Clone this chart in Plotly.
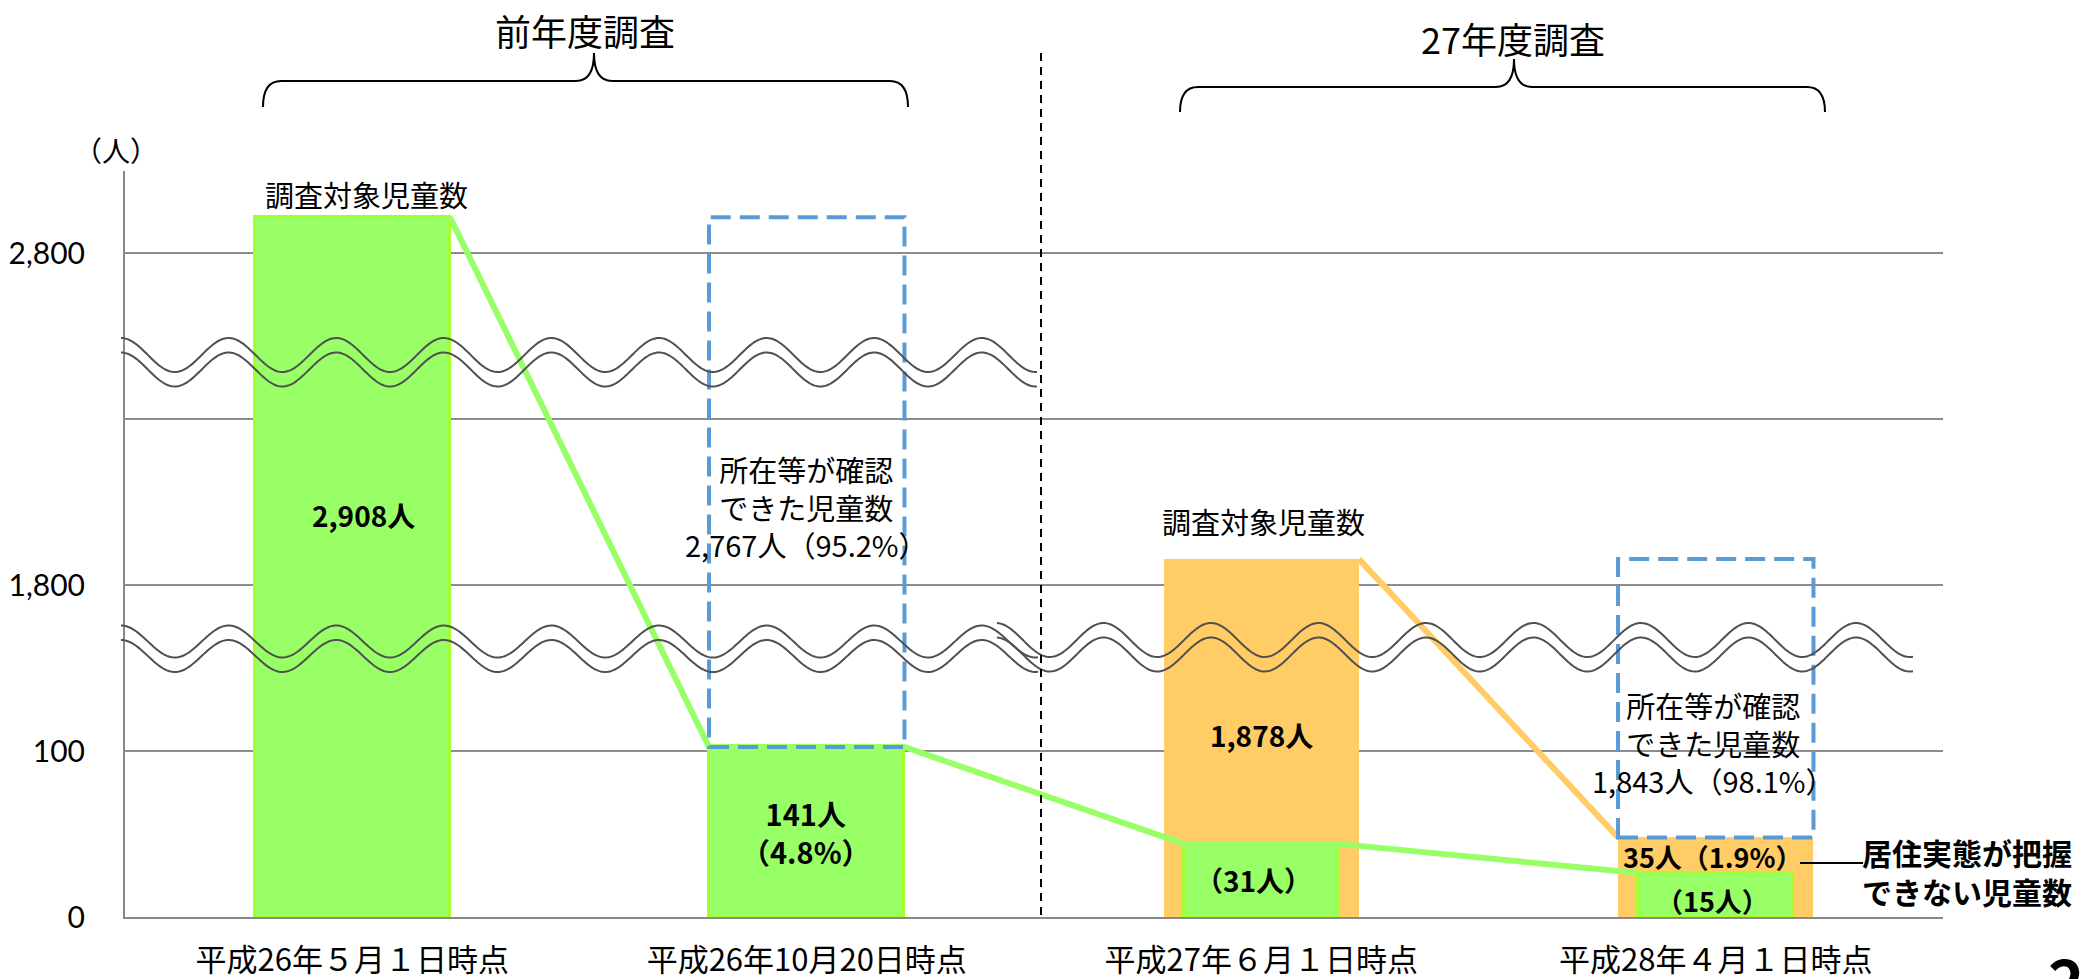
import numpy as np
import plotly.graph_objects as go

# ---------------- data ----------------
categories = ["平成26年５月１日時点", "平成26年10月20日時点", "平成27年６月１日時点", "平成28年４月１日時点"]
survey_titles = ["前年度調査", "27年度調査"]
survey_totals = [2908, 1878]          # 調査対象児童数
confirmed = [2767, 1843]              # 所在等が確認できた児童数
confirmed_pct = [95.2, 98.1]
unconfirmed = [141, 35]               # 居住実態が把握できない児童数
unconfirmed_pct = [4.8, 1.9]
followup_unconfirmed = [31, 15]       # 後続時点で把握できない児童数
y_tick_values = [0, 100, 1800, 2300, 2800]
y_tick_labels = ["0", "100", "1,800", "", "2,800"]

GREEN = "#99FF66"
GREEN_EDGE = "#A4FF2E"
ORANGE = "#FFCC66"
BLUE = "#5B9BD5"
JP = "Noto Sans CJK JP"

# ---------------- geometry helpers ----------------
W, H = 2085, 979
ML, MR, MT, MB = 125, 142, 171, 62
PW, PH = W - ML - MR, H - MT - MB
Y_TOP = 4.494


def T(v):
    """Broken (schematic) axis transform: 0-100 | 100-1800 | 1800-2800..."""
    if v <= 100:
        return (v / 100.0) ** 0.7
    if v <= 1800:
        return 1 + (v - 100) / 1700.0
    return 2 + (v - 1800) / 500.0


def px(x):
    return (x - ML) / PW


def py(y):
    return (H - MB - y) / PH


W_BAR = 0.43
W_NARROW = 0.34

fig = go.Figure()

# orange survey bars (27年度)
fig.add_trace(go.Bar(x=[2, 3], y=[T(survey_totals[1]), T(unconfirmed[1])], width=W_BAR,
                     marker=dict(color=ORANGE, line=dict(color=ORANGE, width=0)),
                     hoverinfo="skip", showlegend=False))
# green bars (前年度)
fig.add_trace(go.Bar(x=[0, 1], y=[T(survey_totals[0]), T(unconfirmed[0])], width=W_BAR,
                     marker=dict(color=GREEN, line=dict(color=GREEN_EDGE, width=3)),
                     hoverinfo="skip", showlegend=False))
# green follow-up bars
fig.add_trace(go.Bar(x=[2, 3], y=[T(v) for v in followup_unconfirmed], width=W_NARROW,
                     marker=dict(color=GREEN, line=dict(color=GREEN_EDGE, width=3)),
                     hoverinfo="skip", showlegend=False))

# connecting lines
fig.add_trace(go.Scatter(
    x=[0 + W_BAR / 2, 1 - W_BAR / 2, 1 + W_BAR / 2, 2 - W_NARROW / 2, 2 + W_NARROW / 2, 3 - W_NARROW / 2],
    y=[T(survey_totals[0]), T(unconfirmed[0]), T(unconfirmed[0]), T(followup_unconfirmed[0]),
       T(followup_unconfirmed[0]), T(followup_unconfirmed[1])],
    mode="lines", line=dict(color=GREEN, width=6), hoverinfo="skip", showlegend=False))
fig.add_trace(go.Scatter(
    x=[2 + W_BAR / 2, 3 - W_BAR / 2], y=[T(survey_totals[1]), T(unconfirmed[1])],
    mode="lines", line=dict(color=ORANGE, width=6), hoverinfo="skip", showlegend=False))

shapes = []
# dashed boxes for confirmed children (stacked on the unconfirmed bar)
for cx, base, conf in [(1, unconfirmed[0], confirmed[0]), (3, unconfirmed[1], confirmed[1])]:
    shapes.append(dict(type="rect", xref="x", yref="y", x0=cx - W_BAR / 2, x1=cx + W_BAR / 2,
                       y0=T(base), y1=T(base + conf),
                       line=dict(color=BLUE, width=4, dash="20px,9px"), layer="above"))


def wave_path(x0, x1, yc, amp, period, peak_x):
    xs = np.linspace(x0, x1, 500)
    ys = yc - amp * np.cos(2 * np.pi * (xs - peak_x) / period)
    return "M " + " L ".join(f"{px(a):.5f},{py(b):.5f}" for a, b in zip(xs, ys))


for (x0, x1, yc, amp, per, pk) in [
    (121, 1037, 355, 17, 107.6, 121),
    (121, 1038, 641.5, 16, 107.6, 121),
    (997, 1913, 640, 17, 107.5, 996),
]:
    for off in (0, 14.5):
        shapes.append(dict(type="path", xref="paper", yref="paper",
                           path=wave_path(x0, x1, yc + off, amp, per, pk),
                           line=dict(color="#505050", width=2), layer="above"))

# vertical separator
shapes.append(dict(type="line", xref="paper", yref="paper", x0=px(1041), x1=px(1041),
                   y0=py(53), y1=py(917), line=dict(color="black", width=2, dash="8px,6px")))


def brace(x0, x1, xt, yh, yt, ye, r=18):
    P = lambda x, y: f"{px(x):.5f},{py(y):.5f}"
    return ("M " + P(x0, ye) + " Q " + P(x0, yh) + " " + P(x0 + r, yh) +
            " L " + P(xt - r, yh) + " Q " + P(xt, yh) + " " + P(xt, yt) +
            " Q " + P(xt, yh) + " " + P(xt + r, yh) +
            " L " + P(x1 - r, yh) + " Q " + P(x1, yh) + " " + P(x1, ye))


shapes.append(dict(type="path", xref="paper", yref="paper", path=brace(263, 908, 594, 81, 53, 107),
                   line=dict(color="black", width=2)))
shapes.append(dict(type="path", xref="paper", yref="paper", path=brace(1180, 1825, 1514, 87, 59, 112),
                   line=dict(color="black", width=2)))
# leader line
shapes.append(dict(type="line", xref="paper", yref="paper", x0=px(1800), x1=px(1863),
                   y0=py(863), y1=py(863), line=dict(color="black", width=2)))

annotations = []


def ann(x, y, text, size=30, bold=False, family=JP, xanchor="center"):
    if bold:
        text = "<br>".join(f"<b>{t}</b>" for t in text.split("<br>"))
    annotations.append(dict(x=px(x), y=py(y), xref="paper", yref="paper", text=text, showarrow=False,
                            xanchor=xanchor, yanchor="middle",
                            font=dict(family=family, size=size, color="black")))


ann(585, 30, survey_titles[0], size=36)
ann(1513, 38, survey_titles[1], size=36)
ann(116, 150, "（人）", size=28)
ann(366, 194, "調査対象児童数", size=29)
ann(363, 515, f"{survey_totals[0]:,}人", size=28, bold=True)
ann(806, 506, f"所在等が確認<br>できた児童数<br>{confirmed[0]:,}人（{confirmed_pct[0]}%）", size=29)
ann(806, 832, f"{unconfirmed[0]}人<br>（{unconfirmed_pct[0]}%）", size=29, bold=True)
ann(1263, 521, "調査対象児童数", size=29)
ann(1261, 735, f"{survey_totals[1]:,}人", size=28, bold=True)
ann(1253, 880, f"（{followup_unconfirmed[0]}人）", size=28, bold=True)
ann(1713, 742, f"所在等が確認<br>できた児童数<br>{confirmed[1]:,}人（{confirmed_pct[1]}%）", size=29)
ann(1713, 856, f"{unconfirmed[1]}人（{unconfirmed_pct[1]}%）", size=27, bold=True)
ann(1712, 900, f"（{followup_unconfirmed[1]}人）", size=27, bold=True)
ann(1967, 871, "居住実態が把握<br>できない児童数", size=30, bold=True)
ann(2066, 978, "2", size=62, bold=True)

fig.update_layout(
    width=W, height=H,
    margin=dict(l=ML, r=MR, t=MT, b=MB, pad=0, autoexpand=False),
    paper_bgcolor="white", plot_bgcolor="white",
    barmode="overlay", bargap=0,
    shapes=shapes, annotations=annotations,
    xaxis=dict(range=[-0.5, 3.5], tickvals=[0, 1, 2, 3], ticktext=categories,
               tickfont=dict(family=JP, size=31, color="black"),
               showline=True, linecolor="#888888", linewidth=2, showgrid=False, zeroline=False,
               ticks="", ticklabelstandoff=15, fixedrange=True, automargin=False),
    yaxis=dict(range=[0, Y_TOP], tickvals=[T(v) for v in y_tick_values], ticktext=y_tick_labels,
               tickfont=dict(family="Lato", size=30, color="black"),
               showline=True, linecolor="#888888", linewidth=2,
               showgrid=True, gridcolor="#8c8c8c", gridwidth=1.5, zeroline=False,
               ticks="", ticklabelstandoff=32, fixedrange=True, automargin=False),
    showlegend=False,
)

fig.write_html("out.html")
